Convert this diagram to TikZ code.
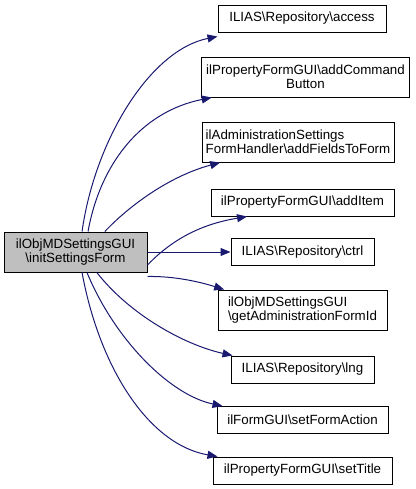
\documentclass[tikz,border=0pt]{standalone}
\usepackage{fontspec}
\setmainfont{Liberation Sans}
\usetikzlibrary{arrows.meta}
\tikzset{every picture/.style={line width=0.75pt}}
\definecolor{edgeblue}{RGB}{25,25,112}
\definecolor{boxgray}{RGB}{191,191,191}
\tikzset{
  fnbox/.style={draw=black, rectangle, inner sep=0pt, minimum height=20.25pt, font=\fontsize{10}{10.5}\selectfont},
  fnboxtwo/.style={fnbox, minimum height=30pt},
  callto/.style={draw=edgeblue, -{Triangle[length=7.5pt,width=6pt]}},
}
\newcommand{\bs}{\textbackslash}

\begin{document}
\begin{tikzpicture}[x=0.75pt,y=0.75pt,yscale=-1,xscale=1]
\useasboundingbox (0,0) rectangle (416,489);

%Shape: caller box
\node [fnboxtwo, fill=boxgray, minimum width=107.25pt, align=center] (init) at (75.5,252) {ilObjMDSettingsGUI\\\bs initSettingsForm};

%Shape: callee boxes
\node [fnbox, minimum width=126pt] (access) at (302,18.5) {ILIAS\bs Repository\bs access};
\node [fnboxtwo, minimum width=156pt, align=center] (addcmd) at (305.5,77) {ilPropertyFormGUI\bs addCommand\\Button};
\node [fnboxtwo, minimum width=144pt, align=left] (addfields) at (298,142) {ilAdministrationSettings\\FormHandler\bs addFieldsToForm};
\node [fnbox, minimum width=137.25pt] (additem) at (302.5,202.5) {ilPropertyFormGUI\bs addItem};
\node [fnbox, minimum width=107.25pt] (ctrl) at (302.5,252) {ILIAS\bs Repository\bs ctrl};
\node [fnboxtwo, minimum width=126.75pt, align=left] (getadmin) at (302.5,310) {ilObjMDSettingsGUI\\\bs getAdministrationFormId};
\node [fnbox, minimum width=107.25pt] (lng) at (302.5,369.5) {ILIAS\bs Repository\bs lng};
\node [fnbox, minimum width=128.25pt] (setform) at (302.5,420) {ilFormGUI\bs setFormAction};
\node [fnbox, minimum width=134.25pt] (settitle) at (302.5,470.5) {ilPropertyFormGUI\bs setTitle};

%Curve Lines
\draw [callto] ([xshift=4.9pt]init.north) .. controls (95,140) and (150,50) .. ([yshift=3pt]access.south west);
\draw [callto] ([xshift=9.4pt]init.north) .. controls (100,165) and (140,112) .. ([xshift=8pt]addcmd.south west);
\draw [callto] ([xshift=22pt]init.north) .. controls (130,205) and (170,176) .. ([xshift=14pt]addfields.south west);
\draw [callto] ([yshift=9.75pt]init.east) .. controls (180,231) and (215,222) .. ([xshift=-41.6pt]additem.south);
%Straight Lines
\draw [callto] (init.east) -- (ctrl.west);
\draw [callto] ([yshift=3pt]init.south east) .. controls (175,276) and (200,282) .. ([xshift=5pt]getadmin.north west);
\draw [callto] ([xshift=16pt]init.south) .. controls (130,315) and (185,345) .. ([xshift=1.5pt]lng.north west);
\draw [callto] ([xshift=8.6pt]init.south) .. controls (115,340) and (170,395) .. ([xshift=4.5pt]setform.north west);
\draw [callto] ([xshift=4.9pt]init.south) .. controls (100,370) and (150,445) .. ([xshift=3.75pt]settitle.north west);

\end{tikzpicture}
\end{document}
